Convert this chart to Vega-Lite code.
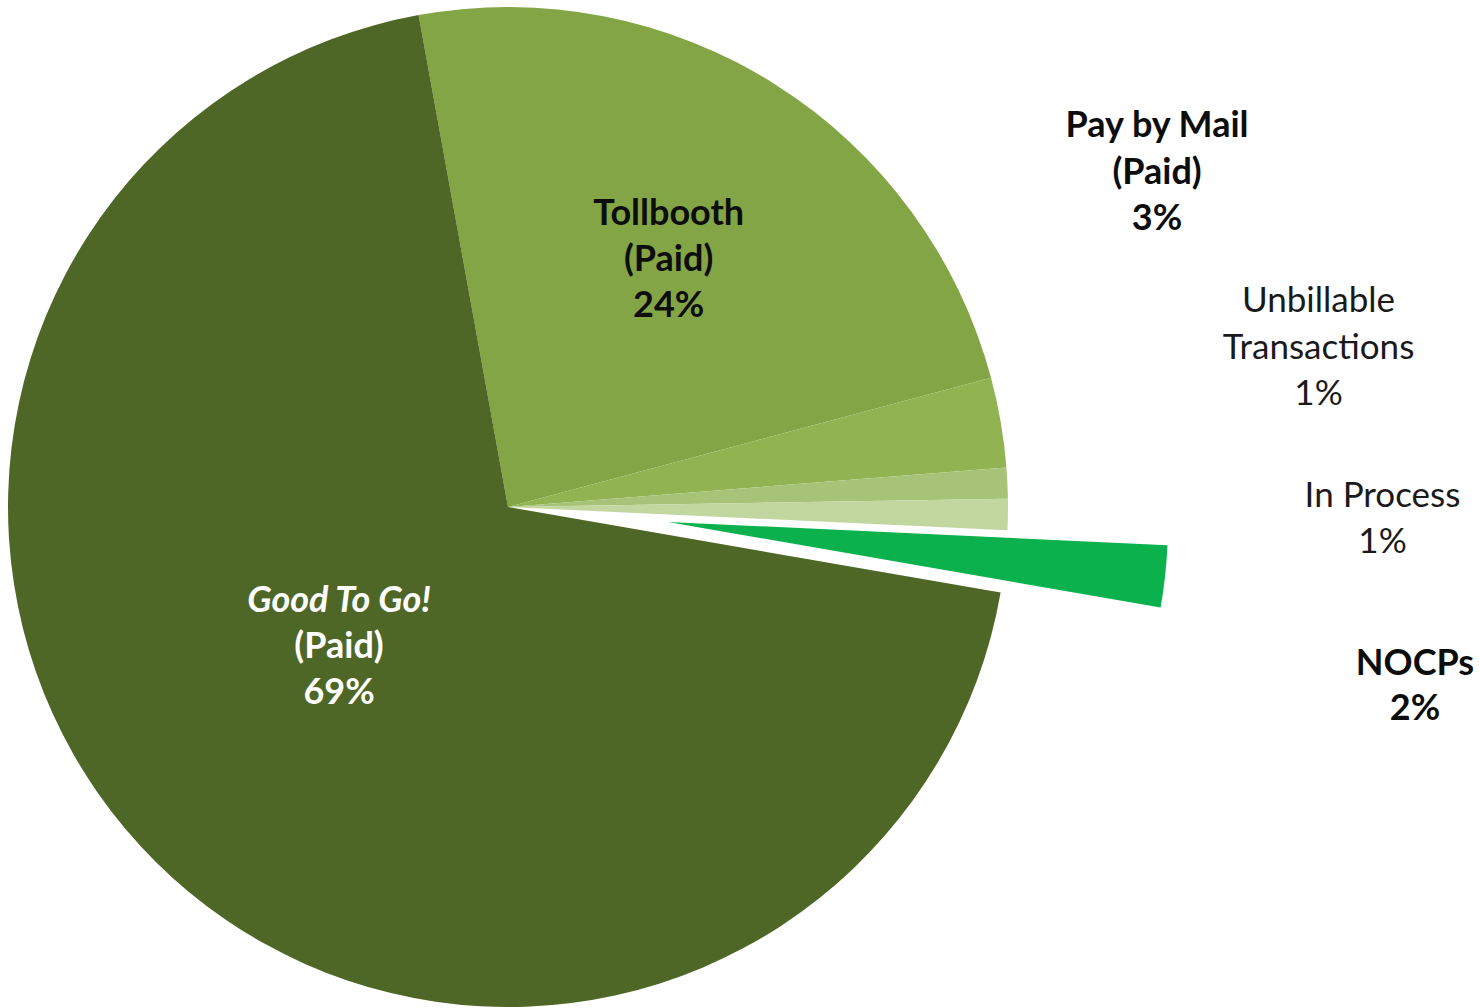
{
  "$schema": "https://vega.github.io/schema/vega-lite/v6.json",
  "width": 1016,
  "height": 1002,
  "autosize": {"type": "none"},
  "padding": {"left": 0, "top": 6, "right": 463, "bottom": 0},
  "background": "white",
  "config": {"view": {"stroke": null}, "font": "Lato"},
  "data": {"values": [
    {"category": "Tollbooth (Paid)", "line1": "Tollbooth", "line2": "(Paid)", "share": 0.237, "rank": 1},
    {"category": "Pay by Mail (Paid)", "line1": "Pay by Mail", "line2": "(Paid)", "share": 0.029, "rank": 2},
    {"category": "Unbillable Transactions", "line1": "Unbillable", "line2": "Transactions", "share": 0.010, "rank": 3},
    {"category": "In Process", "line1": "In Process", "line2": "", "share": 0.010, "rank": 4},
    {"category": "NOCPs", "line1": "NOCPs", "line2": "", "share": 0.020, "rank": 5},
    {"category": "Good To Go! (Paid)", "line1": "Good To Go!", "line2": "(Paid)", "share": 0.694, "rank": 6}
  ]},
  "encoding": {
    "theta": {"field": "share", "type": "quantitative", "stack": true, "scale": {"range": [-0.1798, 6.1034]}},
    "order": {"field": "rank", "type": "quantitative"},
    "detail": {"field": "category", "type": "nominal"}
  },
  "layer": [
    {
      "mark": {"type": "arc", "outerRadius": 500},
      "encoding": {
        "color": {"field": "category", "type": "nominal", "legend": null,
          "scale": {"domain": ["Tollbooth (Paid)", "Pay by Mail (Paid)", "Unbillable Transactions", "In Process", "NOCPs", "Good To Go! (Paid)"],
                    "range": ["#84a545", "#91b351", "#a6c377", "#c2d6a0", "#0bb14d", "#4f6726"]}},
        "opacity": {"condition": {"test": "datum.category === 'NOCPs'", "value": 0}, "value": 1}
      }
    },
    {
      "mark": {"type": "arc", "outerRadius": 500, "xOffset": 160, "yOffset": 15},
      "encoding": {
        "color": {"field": "category", "type": "nominal", "legend": null},
        "opacity": {"condition": {"test": "datum.category === 'NOCPs'", "value": 1}, "value": 0}
      }
    },
    {"mark": {"type": "text", "radius": 285.4, "thetaOffset": 0.033, "dy": -46, "fontSize": 36, "fontWeight": "bold", "color": "#0d0d0d", "align": "center", "baseline": "alphabetic"},
     "encoding": {"text": {"condition": {"test": "datum.category === 'Tollbooth (Paid)'", "field": "line1", "type": "nominal"}, "value": ""}}},
    {"mark": {"type": "text", "radius": 285.4, "thetaOffset": 0.033, "dy": 0, "fontSize": 36, "fontWeight": "bold", "color": "#0d0d0d", "align": "center", "baseline": "alphabetic"},
     "encoding": {"text": {"condition": {"test": "datum.category === 'Tollbooth (Paid)'", "field": "line2", "type": "nominal"}, "value": ""}}},
    {"mark": {"type": "text", "radius": 285.4, "thetaOffset": 0.033, "dy": 46, "fontSize": 36, "fontWeight": "bold", "color": "#0d0d0d", "align": "center", "baseline": "alphabetic"},
     "encoding": {"text": {"condition": {"test": "datum.category === 'Tollbooth (Paid)'", "field": "share", "type": "quantitative", "format": ".0%"}, "value": ""}}},

    {"mark": {"type": "text", "radius": 226.6, "thetaOffset": 0.060, "dy": -46, "fontSize": 36, "fontWeight": "bold", "fontStyle": "italic", "color": "#ffffff", "align": "center", "baseline": "alphabetic"},
     "encoding": {"text": {"condition": {"test": "datum.category === 'Good To Go! (Paid)'", "field": "line1", "type": "nominal"}, "value": ""}}},
    {"mark": {"type": "text", "radius": 226.6, "thetaOffset": 0.060, "dy": 0, "fontSize": 36, "fontWeight": "bold", "color": "#ffffff", "align": "center", "baseline": "alphabetic"},
     "encoding": {"text": {"condition": {"test": "datum.category === 'Good To Go! (Paid)'", "field": "line2", "type": "nominal"}, "value": ""}}},
    {"mark": {"type": "text", "radius": 226.6, "thetaOffset": 0.060, "dy": 46, "fontSize": 36, "fontWeight": "bold", "color": "#ffffff", "align": "center", "baseline": "alphabetic"},
     "encoding": {"text": {"condition": {"test": "datum.category === 'Good To Go! (Paid)'", "field": "share", "type": "quantitative", "format": ".0%"}, "value": ""}}},

    {"mark": {"type": "text", "radius": 725.2, "thetaOffset": -0.292, "dy": -46.5, "fontSize": 36, "fontWeight": "bold", "color": "#0d0d0d", "align": "center", "baseline": "alphabetic"},
     "encoding": {"text": {"condition": {"test": "datum.category === 'Pay by Mail (Paid)'", "field": "line1", "type": "nominal"}, "value": ""}}},
    {"mark": {"type": "text", "radius": 725.2, "thetaOffset": -0.292, "dy": 0, "fontSize": 36, "fontWeight": "bold", "color": "#0d0d0d", "align": "center", "baseline": "alphabetic"},
     "encoding": {"text": {"condition": {"test": "datum.category === 'Pay by Mail (Paid)'", "field": "line2", "type": "nominal"}, "value": ""}}},
    {"mark": {"type": "text", "radius": 725.2, "thetaOffset": -0.292, "dy": 46.5, "fontSize": 36, "fontWeight": "bold", "color": "#0d0d0d", "align": "center", "baseline": "alphabetic"},
     "encoding": {"text": {"condition": {"test": "datum.category === 'Pay by Mail (Paid)'", "field": "share", "type": "quantitative", "format": ".0%"}, "value": ""}}},

    {"mark": {"type": "text", "radius": 824.0, "thetaOffset": -0.1333, "dy": -46.5, "fontSize": 35, "fontWeight": "normal", "color": "#1a1a1a", "align": "center", "baseline": "alphabetic"},
     "encoding": {"text": {"condition": {"test": "datum.category === 'Unbillable Transactions'", "field": "line1", "type": "nominal"}, "value": ""}}},
    {"mark": {"type": "text", "radius": 824.0, "thetaOffset": -0.1333, "dy": 0, "fontSize": 35, "fontWeight": "normal", "color": "#1a1a1a", "align": "center", "baseline": "alphabetic"},
     "encoding": {"text": {"condition": {"test": "datum.category === 'Unbillable Transactions'", "field": "line2", "type": "nominal"}, "value": ""}}},
    {"mark": {"type": "text", "radius": 824.0, "thetaOffset": -0.1333, "dy": 46.5, "fontSize": 35, "fontWeight": "normal", "color": "#1a1a1a", "align": "center", "baseline": "alphabetic"},
     "encoding": {"text": {"condition": {"test": "datum.category === 'Unbillable Transactions'", "field": "share", "type": "quantitative", "format": ".0%"}, "value": ""}}},

    {"mark": {"type": "text", "radius": 874.8, "thetaOffset": 0.0113, "dy": -23, "fontSize": 35, "fontWeight": "normal", "color": "#1a1a1a", "align": "center", "baseline": "alphabetic"},
     "encoding": {"text": {"condition": {"test": "datum.category === 'In Process'", "field": "line1", "type": "nominal"}, "value": ""}}},
    {"mark": {"type": "text", "radius": 874.8, "thetaOffset": 0.0113, "dy": 23, "fontSize": 35, "fontWeight": "normal", "color": "#1a1a1a", "align": "center", "baseline": "alphabetic"},
     "encoding": {"text": {"condition": {"test": "datum.category === 'In Process'", "field": "share", "type": "quantitative", "format": ".0%"}, "value": ""}}},

    {"mark": {"type": "text", "radius": 926.8, "thetaOffset": 0.0977, "dy": -22.5, "fontSize": 36, "fontWeight": "bold", "color": "#0d0d0d", "align": "center", "baseline": "alphabetic"},
     "encoding": {"text": {"condition": {"test": "datum.category === 'NOCPs'", "field": "line1", "type": "nominal"}, "value": ""}}},
    {"mark": {"type": "text", "radius": 926.8, "thetaOffset": 0.0977, "dy": 22.5, "fontSize": 36, "fontWeight": "bold", "color": "#0d0d0d", "align": "center", "baseline": "alphabetic"},
     "encoding": {"text": {"condition": {"test": "datum.category === 'NOCPs'", "field": "share", "type": "quantitative", "format": ".0%"}, "value": ""}}}
  ]
}
